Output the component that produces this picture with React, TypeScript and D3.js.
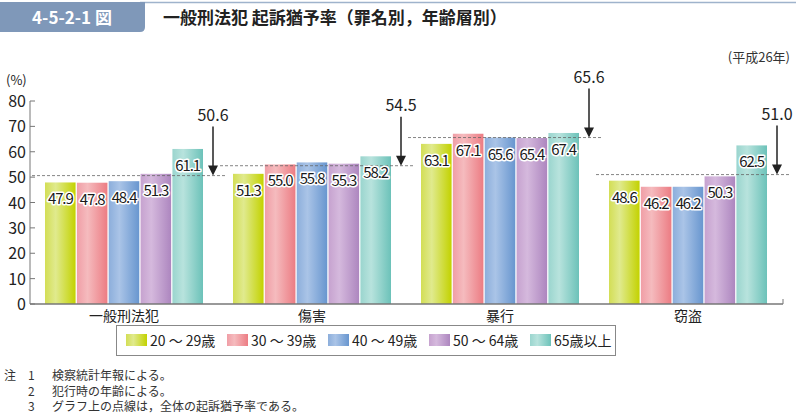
import React from "react";
import * as d3 from "d3";

const categories = ["一般刑法犯", "傷害", "暴行", "窃盗"];
const ageGroups = ["20 ～ 29歳", "30 ～ 39歳", "40 ～ 49歳", "50 ～ 64歳", "65歳以上"];
const values: number[][] = [
  [47.9, 47.8, 48.4, 51.3, 61.1],
  [51.3, 55.0, 55.8, 55.3, 58.2],
  [63.1, 67.1, 65.6, 65.4, 67.4],
  [48.6, 46.2, 46.2, 50.3, 62.5],
];
const overall = [50.6, 54.5, 65.6, 51.0];
const yTicks = [0, 10, 20, 30, 40, 50, 60, 70, 80];
const notes = ["検察統計年報による。", "犯行時の年齢による。", "グラフ上の点線は，全体の起訴猶予率である。"];

// gradient stops: [left, light, right]
const gradColors = [
  ["#d3de55", "#e0ea8e", "#c3d200"],
  ["#f09ea6", "#f5bbbe", "#ec7c83"],
  ["#8caedb", "#aac4e7", "#6896cf"],
  ["#c6a2cf", "#d5b9dd", "#ad86bf"],
  ["#9ad5ce", "#b8e3dd", "#6cc2b9"],
];

const FONT = "'Noto Sans CJK JP', 'Noto Sans', sans-serif";

export default function App() {
  const W = 796, H = 419;
  const y = d3.scaleLinear().domain([0, 80]).range([304, 101]);
  const x = d3.scaleBand().domain(categories).range([30, 782]).padding(0);
  const inner = d3.scaleBand().domain(ageGroups).range([15, 173]).paddingInner(0.04);
  const bw = x.bandwidth();

  return (
    <svg width={W} height={H} style={{ position: "absolute", left: 0, top: 0, fontFamily: FONT }}>
      <defs>
        {gradColors.map((c, i) => (
          <linearGradient key={i} id={`g${i}`} x1="0" x2="1" y1="0" y2="0">
            <stop offset="0" stopColor={c[0]} />
            <stop offset="0.35" stopColor={c[1]} />
            <stop offset="1" stopColor={c[2]} />
          </linearGradient>
        ))}
      </defs>
      <rect width={W} height={H} fill="#fff" />
      {/* title */}
      <line x1={140} x2={W} y1={2.5} y2={2.5} stroke="#9fb3cc" strokeWidth={1.5} />
      <path d="M0,2 H145 V27 Q145,32 140,32 H0 Z" fill="#7f98b9" />
      <text x={72} y={24} textAnchor="middle" fill="#fff" fontSize={17} fontWeight="bold">4-5-2-1 図</text>
      <text x={163} y={24} fill="#222" fontSize={17} fontWeight={600}>一般刑法犯 起訴猶予率（罪名別，年齢層別）</text>
      <text x={790} y={62} textAnchor="end" fill="#333" fontSize={13}>(平成26年)</text>

      {/* y axis */}
      <text x={6} y={85} fill="#222" fontSize={13}>(%)</text>
      <line x1={30} x2={30} y1={y(80)} y2={y(0)} stroke="#777" strokeWidth={1} />
      {yTicks.map((t) => (
        <g key={t}>
          <line x1={30} x2={35} y1={y(t)} y2={y(t)} stroke="#777" />
          <text x={26} y={y(t) + 6} textAnchor="end" fontSize={16} fill="#222">{t}</text>
        </g>
      ))}

      {/* bars */}
      {categories.map((cat, ci) => {
        const x0 = x(cat)!;
        return (
          <g key={cat}>
            {values[ci].map((v, ai) => {
              const bx = x0 + inner(ageGroups[ai])!;
              return (
                <rect key={ai} x={bx} y={y(v)} width={inner.bandwidth()} height={y(0) - y(v)} fill={`url(#g${ai})`} />
              );
            })}
          </g>
        );
      })}

      {/* x axis */}
      <line x1={30} x2={783} y1={y(0)} y2={y(0)} stroke="#777" strokeWidth={1.5} />
      <line x1={783} x2={783} y1={y(0)} y2={y(0) - 5} stroke="#777" />

      {/* dashed overall lines and arrows */}
      {categories.map((cat, ci) => {
        const x0 = x(cat)!;
        const ly = y(overall[ci]);
        const ax = x0 + 183;
        return (
          <g key={cat}>
            <line x1={x0 + 2} x2={x0 + 195} y1={ly} y2={ly} stroke="#666" strokeDasharray="3,2" strokeWidth={0.8} />
            <line x1={ax} x2={ax} y1={ly - 49} y2={ly - 8} stroke="#222" strokeWidth={1.5} />
            <path d={`M${ax - 5},${ly - 10} L${ax + 5},${ly - 10} L${ax},${ly} Z`} fill="#222" />
            <text x={ax} y={ly - 55} textAnchor="middle" fontSize={16} fill="#222">{overall[ci].toFixed(1)}</text>
          </g>
        );
      })}

      {/* value labels */}
      {categories.map((cat, ci) => {
        const x0 = x(cat)!;
        return values[ci].map((v, ai) => {
          const cx = x0 + inner(ageGroups[ai])! + inner.bandwidth() / 2;
          return (
            <text key={`${ci}-${ai}`} x={cx} y={y(v) + 22} textAnchor="middle" fontSize={15} letterSpacing={-1.1}
              fill="#1a1a1a" stroke="#fff" strokeWidth={3} paintOrder="stroke" strokeLinejoin="round">
              {v.toFixed(1)}
            </text>
          );
        });
      })}

      {/* category labels */}
      {categories.map((cat) => (
        <text key={cat} x={x(cat)! + bw / 2} y={321} textAnchor="middle" fontSize={14} fill="#222">{cat}</text>
      ))}

      {/* legend */}
      <rect x={116.5} y={325.5} width={499} height={30} fill="#fff" stroke="#888" />
      {ageGroups.map((g, i) => {
        const lx = 126 + i * 101;
        return (
          <g key={g}>
            <rect x={lx} y={334} width={21} height={12} fill={`url(#g${i})`} />
            <text x={lx + 24} y={346} fontSize={14} fill="#222">{g}</text>
          </g>
        );
      })}

      {/* notes */}
      <text x={4} y={380} fontSize={12} fill="#333">注</text>
      {notes.map((n, i) => (
        <g key={i}>
          <text x={28} y={380 + i * 15.5} fontSize={12} fill="#333">{i + 1}</text>
          <text x={52} y={380 + i * 15.5} fontSize={12} fill="#333">{n}</text>
        </g>
      ))}
    </svg>
  );
}
